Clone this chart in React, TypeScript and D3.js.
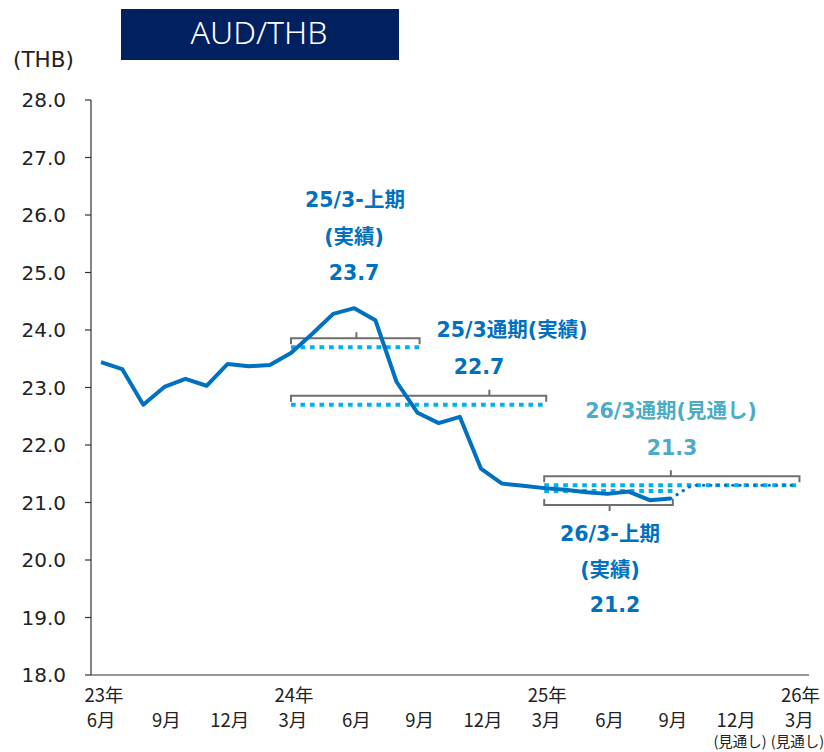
import React from "react";
import * as d3 from "d3";

const months = ["23/06","23/07","23/08","23/09","23/10","23/11","23/12","24/01","24/02","24/03","24/04","24/05","24/06","24/07","24/08","24/09","24/10","24/11","24/12","25/01","25/02","25/03","25/04","25/05","25/06","25/07","25/08","25/09"];
const actual = [23.44,23.32,22.70,23.01,23.15,23.03,23.41,23.37,23.39,23.60,23.93,24.28,24.38,24.17,23.10,22.56,22.38,22.49,21.59,21.33,21.29,21.25,21.22,21.18,21.15,21.19,21.04,21.07];
const forecastIdx = [27,28,29,30,31,32,33];
const forecast = [21.07,21.3,21.3,21.3,21.3,21.3,21.3];

const yTicks = [18,19,20,21,22,23,24,25,26,27,28];
const xTickIdx = [0,3,6,9,12,15,18,21,24,27,30,33];
const xYearLabels = ["23年","","","24年","","","","25年","","","","26年"];
const xMonthLabels = ["6月","9月","12月","3月","6月","9月","12月","3月","6月","9月","12月","3月"];
const xNoteLabels = ["","","","","","","","","","","(見通し)","(見通し)"];

const avgNames = ["25/3上期","25/3通期","26/3通期","26/3上期"];
const avgStart = [9,9,21,21];
const avgEnd = [15,21,33,27];
const avgValue = [23.7,22.7,21.3,21.2];
const avgPointer = [12.1,18.4,27,24.1];
const avgSide = ["above","above","above","below"];

const FONT = "'Noto Sans CJK JP', 'Noto Sans', sans-serif";
const NUMFONT = "'DejaVu Sans', 'Noto Sans CJK JP', sans-serif";

export default function App() {
  const W = 824, H = 752;
  const x = d3.scaleLinear().domain([-0.5, 33.5]).range([90.5, 808]);
  const y = d3.scaleLinear().domain([18, 28]).range([675, 100]);
  const line = d3.line<number>().x((_, i) => x(i)).y(d => y(d));
  const fLine = d3.line<number>().x((_, i) => x(forecastIdx[i])).y(d => y(d));

  const blue = "#0070c0";
  const light = "#00b0f0";
  const teal = "#4bacc6";
  const gray = "#6f6f6f";

  const brackets = avgValue.map((v, k) => {
    const x0 = x(avgStart[k]);
    const x1 = x(avgEnd[k]) + 2;
    const xp = x(avgPointer[k]);
    const yl = y(v);
    const above = avgSide[k] === "above";
    const yb = above ? yl - 9 : yl + 14;
    const e = above ? 6 : -6;
    const p = above ? -6 : 6;
    return { x0, x1, xp, yl, yb, e, p };
  });

  return (
    <svg width={W} height={H} style={{ position: "absolute", left: 0, top: 0 }} fontFamily={FONT}>
      <rect x={0} y={0} width={W} height={H} fill="#fff" />
      {/* title */}
      <rect x={121} y={9} width={278} height={51} fill="#002060" />
      <text x={259} y={44} textAnchor="middle" fill="#fff" fontSize={32} fontFamily="'Noto Sans', sans-serif" fontWeight={300}>AUD/THB</text>
      <text x={13} y={67} fontSize={21.5} fill="#222" fontFamily={NUMFONT}>(THB)</text>

      {/* y axis */}
      <line x1={91} x2={91} y1={100} y2={675} stroke="#333" strokeWidth={1.2} />
      {yTicks.map(t => (
        <g key={t}>
          <line x1={85} x2={91} y1={y(t)} y2={y(t)} stroke="#333" strokeWidth={1.2} />
          <text x={66} y={y(t) + 7} textAnchor="end" fontSize={20} fill="#222" fontFamily={NUMFONT}>{t.toFixed(1)}</text>
        </g>
      ))}
      {/* x axis */}
      <line x1={91} x2={809} y1={675} y2={675} stroke="#333" strokeWidth={1.2} />
      {xTickIdx.map((idx, k) => (
        <g key={idx}>
          {xYearLabels[k] && <text x={x(idx) + 3} y={702} textAnchor="middle" fontSize={18.5} fill="#222">{xYearLabels[k]}</text>}
          <text x={x(idx) + (k === 0 ? 0 : 2)} y={727} textAnchor="middle" fontSize={18.5} fill="#222">{xMonthLabels[k]}</text>
          {xNoteLabels[k] && <text x={x(idx) + (k === 10 ? 6 : 0)} y={747} textAnchor="middle" fontSize={14.5} fill="#222">{xNoteLabels[k]}</text>}
        </g>
      ))}

      {/* brackets */}
      {brackets.map((b, k) => (
        <path key={"b" + k}
          d={`M${b.x0},${b.yb + b.e}V${b.yb}H${b.x1}V${b.yb + b.e}M${b.xp},${b.yb}V${b.yb + b.p}`}
          fill="none" stroke={gray} strokeWidth={2} />
      ))}
      {/* average dotted lines */}
      {brackets.map((b, k) => (
        <line key={"a" + k} x1={b.x0} x2={b.x1} y1={b.yl} y2={b.yl}
          stroke={light} strokeWidth={4} strokeDasharray="4.7 4.8" />
      ))}

      {/* actual line */}
      <path d={line(actual) || ""} fill="none" stroke={blue} strokeWidth={4} strokeLinejoin="round" />
      {/* forecast */}
      <path d={fLine(forecast) || ""} fill="none" stroke={blue} strokeWidth={3.2} strokeDasharray="0.1 7.2" strokeLinecap="round" />

      {/* annotations */}
      <g fontWeight={700} fontSize={20.5} textAnchor="middle" fontFamily={NUMFONT}>
        <text x={355} y={207} fill={blue}>25/3-上期</text>
        <text x={354} y={244} fill={blue}>(実績)</text>
        <text x={354} y={279.5} fill={blue}>23.7</text>

        <text x={512} y={337} fill={blue}>25/3通期(実績)</text>
        <text x={479} y={374} fill={blue}>22.7</text>

        <text x={671} y={418} fill={teal}>26/3通期(見通し)</text>
        <text x={672} y={455} fill={teal}>21.3</text>

        <text x={610} y={541} fill={blue}>26/3-上期</text>
        <text x={610} y={577} fill={blue}>(実績)</text>
        <text x={615} y={612} fill={blue}>21.2</text>
      </g>
    </svg>
  );
}
